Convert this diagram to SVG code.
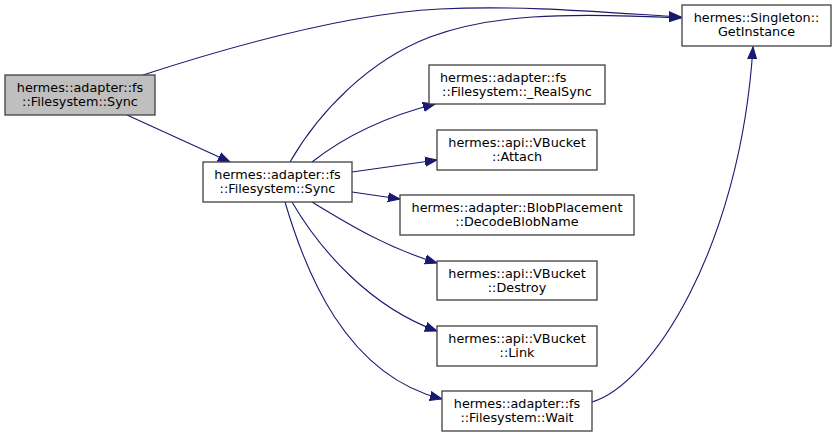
<svg xmlns="http://www.w3.org/2000/svg" width="836" height="437" viewBox="0 0 836 437">
<defs>
<marker id="ah" markerUnits="userSpaceOnUse" markerWidth="14" markerHeight="12" viewBox="0 -6 14 12" refX="12" refY="0" orient="auto">
<path d="M0,-4.5 L12,0 L0,4.5 z" fill="#191970" stroke="#191970" stroke-width="1"/>
</marker>
<style>
.n rect{fill:#ffffff;stroke:#404040;stroke-width:1.3}
.n.hl rect{fill:#bfbfbf}
.n text{font-family:"DejaVu Sans",sans-serif;font-size:12.8px;fill:#000000;text-anchor:middle}
.e path{fill:none;stroke:#191970;stroke-width:1.1;marker-end:url(#ah)}
</style>
</defs>
<rect width="836" height="437" fill="#ffffff"/>
<g id="edges" class="e">
<path d="M143,75 C220,50 340,14 440,9 C520,5 600,12 681,17"/>
<path d="M290,162 C320,110 370,60 430,37 C490,15 560,12 681,18"/>
<path d="M127,115 L230,162"/>
<path d="M312,162 C340,140 380,118 435,104"/>
<path d="M352,172 L437,160"/>
<path d="M352,192 L400,199"/>
<path d="M312,202 C345,222 385,247 437,263"/>
<path d="M292,202 C320,250 370,307 437,331"/>
<path d="M285,202 C305,270 345,375 442,399"/>
<path d="M592,402 C650,385 740,250 753,47"/>
</g>
<g id="node-sync-main" class="n hl">
<rect x="5" y="75" width="150" height="40"/>
<text x="80" y="91.5">hermes::adapter::fs</text>
<text x="80" y="106">::Filesystem::Sync</text>
</g>
<g id="node-sync" class="n">
<rect x="203" y="162" width="149" height="40"/>
<text x="277.5" y="178.5">hermes::adapter::fs</text>
<text x="277.5" y="193">::Filesystem::Sync</text>
</g>
<g id="node-getinstance" class="n">
<rect x="682" y="5" width="149" height="41"/>
<text x="756.5" y="21.5">hermes::Singleton::</text>
<text x="756.5" y="36">GetInstance</text>
</g>
<g id="node-realsync" class="n">
<rect x="429" y="65" width="176" height="39"/>
<text x="440" y="81.5" style="text-anchor:start">hermes::adapter::fs</text>
<text x="517" y="96">::Filesystem::_RealSync</text>
</g>
<g id="node-attach" class="n">
<rect x="437" y="130" width="160" height="40"/>
<text x="517" y="146.5">hermes::api::VBucket</text>
<text x="517" y="161">::Attach</text>
</g>
<g id="node-decode" class="n">
<rect x="400" y="195" width="234" height="40"/>
<text x="517" y="211.5">hermes::adapter::BlobPlacement</text>
<text x="517" y="226">::DecodeBlobName</text>
</g>
<g id="node-destroy" class="n">
<rect x="437" y="261" width="160" height="39"/>
<text x="517" y="277.5">hermes::api::VBucket</text>
<text x="517" y="292">::Destroy</text>
</g>
<g id="node-link" class="n">
<rect x="437" y="326" width="160" height="40"/>
<text x="517" y="342.5">hermes::api::VBucket</text>
<text x="517" y="357">::Link</text>
</g>
<g id="node-wait" class="n">
<rect x="442" y="391" width="150" height="40"/>
<text x="517" y="407.5">hermes::adapter::fs</text>
<text x="517" y="422">::Filesystem::Wait</text>
</g>
</svg>
